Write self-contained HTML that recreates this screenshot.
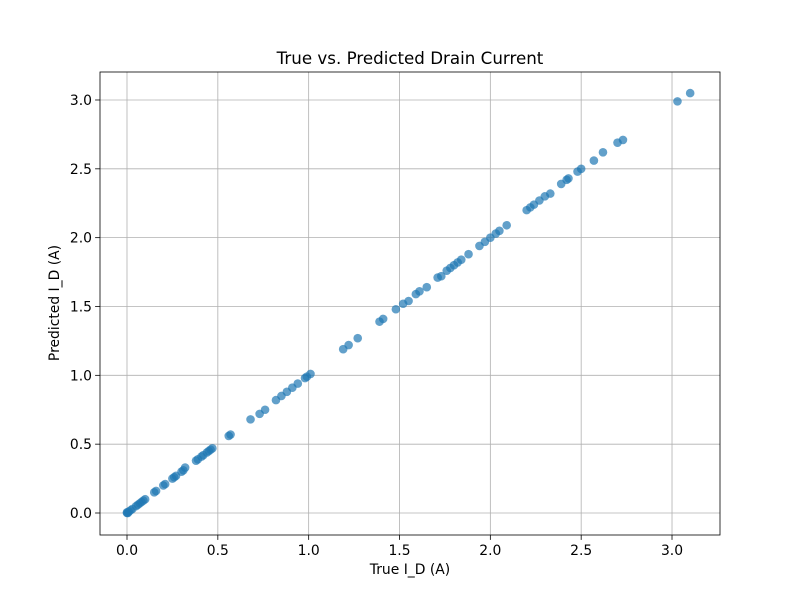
<!DOCTYPE html>
<html><head><meta charset="utf-8"><style>
body{margin:0;background:#fff;font-family:"Liberation Sans","DejaVu Sans",sans-serif}
svg text{font-family:"DejaVu Sans","Liberation Sans",sans-serif}
</style></head><body>
<svg id="chart" width="800" height="600" xmlns="http://www.w3.org/2000/svg"></svg>
<script>
const trueVals=[0,0,0.005,0.01,0.02,0.03,0.05,0.06,0.07,0.08,0.09,0.1,0.15,0.16,0.2,0.21,0.25,0.26,0.27,0.3,0.31,0.32,0.38,0.39,0.41,0.42,0.44,0.45,0.46,0.47,0.56,0.57,0.68,0.73,0.76,0.82,0.85,0.88,0.91,0.94,0.98,0.99,1.01,1.19,1.22,1.27,1.39,1.41,1.48,1.52,1.55,1.59,1.61,1.65,1.71,1.73,1.76,1.78,1.8,1.82,1.84,1.88,1.94,1.97,2.0,2.03,2.05,2.09,2.2,2.22,2.24,2.27,2.3,2.33,2.39,2.42,2.43,2.48,2.5,2.57,2.62,2.7,2.73,3.03,3.1];
const predVals=[0,0.005,0,0.01,0.02,0.03,0.05,0.06,0.07,0.08,0.09,0.1,0.15,0.16,0.2,0.21,0.25,0.26,0.27,0.3,0.31,0.33,0.38,0.39,0.41,0.42,0.44,0.45,0.46,0.47,0.56,0.57,0.68,0.72,0.75,0.82,0.85,0.88,0.91,0.94,0.98,0.99,1.01,1.19,1.22,1.27,1.39,1.41,1.48,1.52,1.54,1.59,1.61,1.64,1.71,1.72,1.76,1.78,1.8,1.82,1.84,1.88,1.94,1.97,2.0,2.03,2.05,2.09,2.2,2.22,2.24,2.27,2.3,2.32,2.39,2.42,2.43,2.48,2.5,2.56,2.62,2.69,2.71,2.99,3.05];
const xTicks=[0,0.5,1,1.5,2,2.5,3];
const yTicks=[0,0.5,1,1.5,2,2.5,3];
const xLabels=["0.0","0.5","1.0","1.5","2.0","2.5","3.0"];
const yLabels=["0.0","0.5","1.0","1.5","2.0","2.5","3.0"];
const NS="http://www.w3.org/2000/svg";
const svg=document.getElementById('chart');
const L=100,R=720,T=72,B=535;
const xs=v=>127+v*181.67;
const ys=v=>513-v*137.67;
function mk(tag,at,parent){const e=document.createElementNS(NS,tag);for(const k in at)e.setAttribute(k,at[k]);(parent||svg).appendChild(e);return e;}
const grid=mk('g',{});


xTicks.forEach((t,i)=>{
 mk('line',{x1:xs(t),x2:xs(t),y1:T,y2:B,stroke:'#b0b0b0','stroke-width':0.8},grid);
 mk('line',{x1:xs(t),x2:xs(t),y1:B,y2:B+4.9,stroke:'#000','stroke-width':0.8});
 const tx=mk('text',{x:xs(t),y:B+20,'text-anchor':'middle','font-size':13.9});
 tx.textContent=xLabels[i];
 
 
});
yTicks.forEach((t,i)=>{
 mk('line',{x1:L,x2:R,y1:ys(t),y2:ys(t),stroke:'#b0b0b0','stroke-width':0.8},grid);
 mk('line',{x1:L-4.9,x2:L,y1:ys(t),y2:ys(t),stroke:'#000','stroke-width':0.8});
 const tx=mk('text',{x:L-8,y:ys(t)+5,'text-anchor':'end','font-size':13.9});
 tx.textContent=yLabels[i];
 
 
});
const pts=mk('g',{});


trueVals.forEach((v,i)=>{
 const c=mk('circle',{cx:xs(v),cy:ys(predVals[i]),r:4.3,fill:'#1f77b4','fill-opacity':0.7},pts);
 
 
});
const fr=mk('rect',{x:L,y:T,width:R-L,height:B-T,fill:'none',stroke:'#000','stroke-width':0.8});


const ti=mk('text',{x:410,y:64,'text-anchor':'middle','font-size':16.7});
ti.textContent='True vs. Predicted Drain Current';


const xl=mk('text',{x:410,y:574,'text-anchor':'middle','font-size':13.9});
xl.textContent='True I_D (A)';


const yl=mk('text',{x:59,y:303,'text-anchor':'middle','font-size':13.9,transform:'rotate(-90 59 303)'});
yl.textContent='Predicted I_D (A)';


</script>
</body></html>
